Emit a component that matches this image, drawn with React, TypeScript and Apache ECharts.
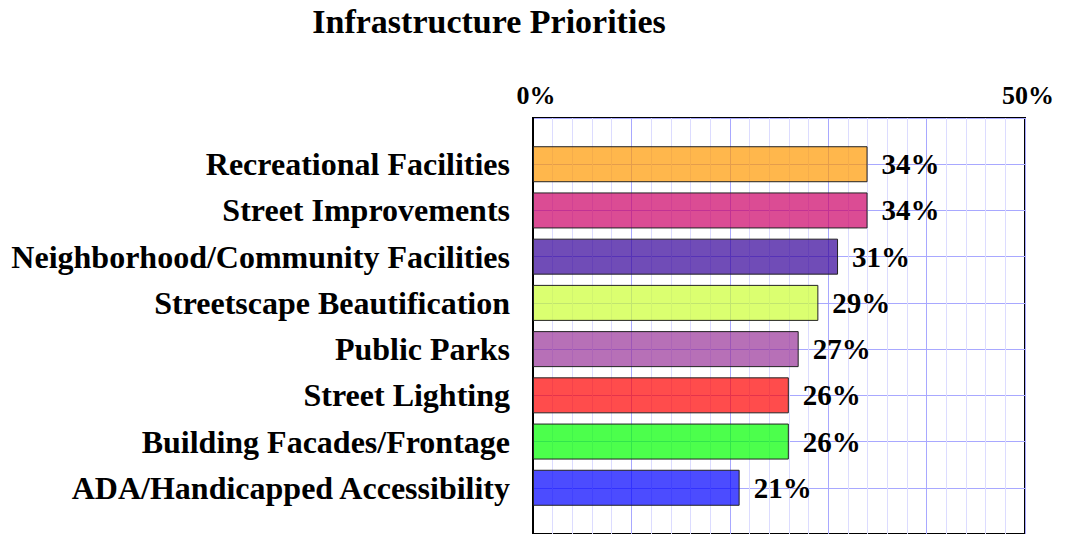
import React, { useEffect, useRef } from "react";
import * as echarts from "echarts";

const categories = [
  "Recreational Facilities",
  "Street Improvements",
  "Neighborhood/Community Facilities",
  "Streetscape Beautification",
  "Public Parks",
  "Street Lighting",
  "Building Facades/Frontage",
  "ADA/Handicapped Accessibility",
];
const values = [34, 34, 31, 29, 27, 26, 26, 21];
const barColors = [
  "rgba(255,153,0,0.7)",
  "rgba(204,0,102,0.7)",
  "rgba(51,0,153,0.7)",
  "rgba(204,255,51,0.7)",
  "rgba(153,51,153,0.7)",
  "rgba(255,0,0,0.7)",
  "rgba(0,255,0,0.7)",
  "rgba(0,0,255,0.7)",
];
const axisMin = 0;
const axisMax = 50;

const FONT = "'Liberation Serif', 'Times New Roman', serif";

export default function App() {
  const ref = useRef<HTMLDivElement>(null);
  useEffect(() => {
    if (!ref.current) return;
    const chart = echarts.init(ref.current, null, { renderer: "svg" });
    const yData = ["", ...categories, ""];
    const barData: any[] = [
      "-",
      ...values.map((v, i) => ({
        value: v,
        itemStyle: { color: barColors[i] },
      })),
      "-",
    ];
    chart.setOption({
      animation: false,
      backgroundColor: "#fff",
      title: {
        text: "Infrastructure Priorities",
        left: 484,
        top: -1,
        textAlign: "center",
        textStyle: {
          fontFamily: FONT,
          fontWeight: "bold",
          fontSize: 34,
          color: "#000",
        },
      },
      grid: {
        left: 533,
        right: 41,
        top: 118,
        bottom: -1,
        show: true,
        borderColor: "#000",
        borderWidth: 2,
        backgroundColor: "transparent",
      },
      xAxis: {
        type: "value",
        position: "top",
        min: axisMin,
        max: axisMax,
        interval: 10,
        axisLine: { show: false },
        axisTick: { show: false },
        axisLabel: {
          fontFamily: FONT,
          fontWeight: "bold",
          fontSize: 26,
          color: "#000",
          margin: 10,
          padding: [0, 0, 0, 6],
          formatter: (v: number) =>
            v === axisMin || v === axisMax ? v + "%" : "",
        },
        splitLine: { show: true, lineStyle: { color: "#A8A8FF", width: 1 } },
        minorTick: { show: false, splitNumber: 5 },
        minorSplitLine: {
          show: true,
          lineStyle: { color: "#DCDCFF", width: 1 },
        },
      },
      yAxis: {
        type: "category",
        inverse: true,
        boundaryGap: false,
        data: yData,
        axisLine: { show: true, lineStyle: { color: "#000", width: 2 } },
        axisTick: { show: false },
        axisLabel: {
          fontFamily: FONT,
          fontWeight: "bold",
          fontSize: 32,
          color: "#000",
          margin: 23,
        },
        splitLine: { show: true, lineStyle: { color: "#A8A8FF", width: 1 } },
      },
      series: [
        {
          type: "bar",
          data: barData,
          barWidth: 36,
          itemStyle: {
            borderColor: "#222",
            borderWidth: 1,
          },
          label: {
            show: true,
            position: "right",
            distance: 14,
            formatter: "{c}%",
            fontFamily: FONT,
            fontWeight: "bold",
            fontSize: 29,
            color: "#000",
          },
        },
      ],
    });
    return () => chart.dispose();
  }, []);
  return (
    <div
      ref={ref}
      style={{ position: "fixed", left: 0, top: 0, width: 1066, height: 534 }}
    />
  );
}
